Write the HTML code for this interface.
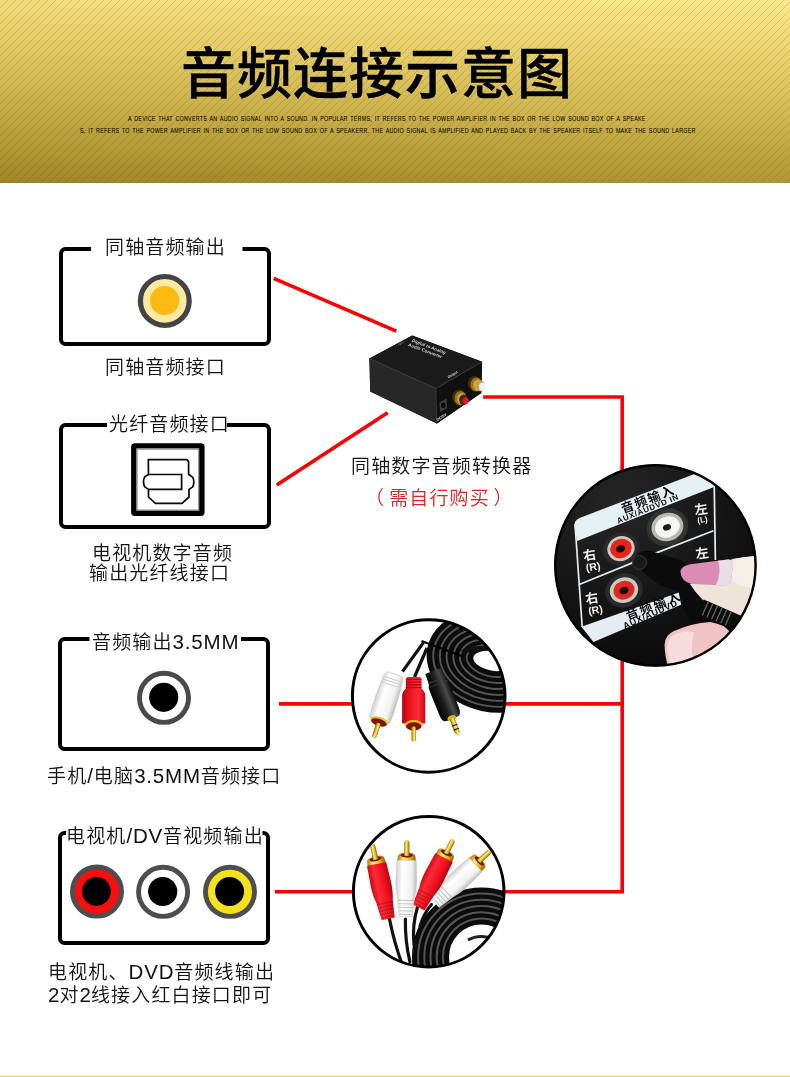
<!DOCTYPE html>
<html lang="zh-CN">
<head>
<meta charset="utf-8">
<title>音频连接示意图</title>
<style>
html,body{margin:0;padding:0;background:#fff;}
body{width:790px;height:1077px;position:relative;overflow:hidden;
  font-family:"Liberation Sans","Noto Sans CJK SC",sans-serif;color:#2b2b2b;}
#hdr{position:absolute;left:0;top:0;width:790px;height:183px;overflow:hidden;
  background:linear-gradient(182.3deg,#f9e88e 0%,#f3dc7c 15%,#e3ca66 35%,#d6bc56 50%,#c1a642 70%,#b09835 85%,#9f8525 100%);}
#hdr .stripes{position:absolute;left:0;top:0;width:790px;height:183px;
  background:repeating-linear-gradient(135deg,rgba(90,70,10,0) 0,rgba(90,70,10,0) 4.95px,rgba(70,54,6,.18) 4.95px,rgba(70,54,6,.18) 5.657px);}
#hdr h1{position:absolute;left:181px;top:47px;margin:0;
  font-weight:500;font-size:55px;line-height:55px;letter-spacing:1px;color:#000;white-space:nowrap;
  -webkit-text-stroke:0.5px #000;text-shadow:0 0 2px rgba(255,240,150,.5);}
#hdr p{position:absolute;margin:0;left:0;font-size:12px;line-height:12px;color:#080600;-webkit-text-stroke:0.12px #080600;white-space:nowrap;
  transform-origin:0 0;}
.t{position:absolute;margin:0;white-space:nowrap;font-size:19px;line-height:22px;font-weight:350;color:#111;
  letter-spacing:1.15px;will-change:transform;}
.t .l{font-size:20.5px;letter-spacing:0.8px;font-weight:400;}
.red{color:#e6211d;}
#art{position:absolute;left:0;top:0;width:790px;height:1077px;will-change:transform;}
#art text{font-family:"Liberation Sans","Noto Sans CJK SC",sans-serif;}
#foot{position:absolute;left:0;top:1073px;width:790px;height:4px;background:linear-gradient(180deg,#ffffff 0,#fffbea 50%,#fdf0bf 75%,#f4d35e 76%,#f4d35e 100%);}
</style>
</head>
<body>
<div id="hdr">
  <div class="stripes"></div>
  <h1>音频连接示意图</h1>
  <p id="s1" style="left:128px;top:113.7px;transform:scale(0.4455,0.66);letter-spacing:0.6px;word-spacing:2px;">A DEVICE THAT CONVERTS AN AUDIO SIGNAL INTO A SOUND. IN POPULAR TERMS, IT REFERS TO THE POWER AMPLIFIER IN THE BOX OR THE LOW SOUND BOX OF A SPEAKE</p>
  <p id="s2" style="left:80px;top:125.6px;transform:scale(0.4455,0.66);letter-spacing:0.6px;word-spacing:2px;">S, IT REFERS TO THE POWER AMPLIFIER IN THE BOX OR THE LOW SOUND BOX OF A SPEAKERR. THE AUDIO SIGNAL IS AMPLIFIED AND PLAYED BACK BY THE SPEAKER ITSELF TO MAKE THE SOUND LARGER</p>
</div>
<svg id="art" width="790" height="1077" viewBox="0 0 790 1077">
<defs>
  <clipPath id="cpA"><circle cx="428.7" cy="696" r="77"/></clipPath>
  <clipPath id="cpB"><circle cx="428.7" cy="891.7" r="76"/></clipPath>
  <clipPath id="cpP"><circle cx="655.4" cy="565.4" r="100.8"/></clipPath>
  <linearGradient id="gGold" x1="0" y1="0" x2="1" y2="0">
    <stop offset="0" stop-color="#a8740a"/><stop offset=".35" stop-color="#fff07a"/><stop offset=".7" stop-color="#e2b21c"/><stop offset="1" stop-color="#8a5a06"/>
  </linearGradient>
  <linearGradient id="gRed" x1="0" y1="0" x2="1" y2="0">
    <stop offset="0" stop-color="#c80a14"/><stop offset=".3" stop-color="#ff2a34"/><stop offset=".75" stop-color="#e80e1c"/><stop offset="1" stop-color="#b00610"/>
  </linearGradient>
  <linearGradient id="gWht" x1="0" y1="0" x2="1" y2="0">
    <stop offset="0" stop-color="#cfcfcf"/><stop offset=".3" stop-color="#ffffff"/><stop offset=".75" stop-color="#f1f1f1"/><stop offset="1" stop-color="#bdbdbd"/>
  </linearGradient>
  <linearGradient id="gBlk" x1="0" y1="0" x2="1" y2="0">
    <stop offset="0" stop-color="#0a0a0a"/><stop offset=".3" stop-color="#4a4a4a"/><stop offset=".6" stop-color="#1c1c1c"/><stop offset="1" stop-color="#000"/>
  </linearGradient>
  <!-- RCA plug: origin at gold collar, pin points up (-y), body extends down (+y) -->
  <g id="pin">
    <path d="M-2.6 -5 V-17 Q-2.6 -20.5 0 -20.5 Q2.6 -20.5 2.6 -17 V-5 Z" fill="url(#gGold)"/>
    <path d="M-8.8 -4 Q-8.8 -8 0 -8 Q8.8 -8 8.8 -4 L9.4 2 H-9.4 Z" fill="url(#gGold)"/>
    <ellipse cx="0" cy="-5.2" rx="6.2" ry="2.3" fill="#7a1400"/>
    <rect x="-2.6" y="-9" width="5.2" height="4.5" fill="url(#gGold)"/>
  </g>
  <g id="ribs" fill="none" stroke="#000" stroke-opacity=".22" stroke-width="1.1">
    <path d="M-7.6 40 H7.6 M-7.2 43.5 H7.2 M-6.8 47 H6.8 M-6.4 50.5 H6.4 M-6 54 H6"/>
  </g>
  <path id="body" d="M-9.8 1 Q-10 0 -9 0 H9 Q10 0 9.8 1 L10.4 22 Q10.2 32 8.4 38 L6.6 56 H-6.6 L-8.4 38 Q-10.2 32 -10.4 22 Z"/>
  <path id="bodyS" d="M-10.4 1 Q-10.6 0 -9.6 0 H9.6 Q10.6 0 10.4 1 L10.8 26 Q10.4 31 8.2 33 L7.6 47 Q7.4 49 5.5 49 H-5.5 Q-7.4 49 -7.6 47 L-8.2 33 Q-10.4 31 -10.8 26 Z"/>
</defs>
<!-- red connection lines -->
<g fill="none" stroke="#fb0000" stroke-width="3.6" stroke-linecap="butt" stroke-linejoin="miter">
  <path d="M273.7 278.4 L396.3 331.2"/>
  <path d="M276.7 484.9 L387.6 412.7"/>
  <path d="M483.2 397 H622.2 V891.7 H505"/>
  <path d="M279 703.9 H352"/>
  <path d="M505 703.9 H622.2"/>
  <path d="M274.9 891.7 H352"/>
</g>
<!-- socket boxes -->
<g fill="none" stroke="#000" stroke-width="4" stroke-linecap="butt">
  <path d="M91 249 H65.5 a4.5 4.5 0 0 0 -4.5 4.5 V339.5 a4.5 4.5 0 0 0 4.5 4.5 H264.5 a4.5 4.5 0 0 0 4.5 -4.5 V253.5 a4.5 4.5 0 0 0 -4.5 -4.5 H242.5"/>
  <path d="M107 425 H65.5 a4.5 4.5 0 0 0 -4.5 4.5 V522.5 a4.5 4.5 0 0 0 4.5 4.5 H264.5 a4.5 4.5 0 0 0 4.5 -4.5 V429.5 a4.5 4.5 0 0 0 -4.5 -4.5 H226.8"/>
  <path d="M89.5 639 H64.5 a4.5 4.5 0 0 0 -4.5 4.5 V744.5 a4.5 4.5 0 0 0 4.5 4.5 H263.5 a4.5 4.5 0 0 0 4.5 -4.5 V643.5 a4.5 4.5 0 0 0 -4.5 -4.5 H241"/>
  <path d="M66 833 H64.5 a4.5 4.5 0 0 0 -4.5 4.5 V938.5 a4.5 4.5 0 0 0 4.5 4.5 H263.5 a4.5 4.5 0 0 0 4.5 -4.5 V837.5 a4.5 4.5 0 0 0 -4.5 -4.5 H262.5"/>
</g>
<!-- coax jack -->
<g>
  <circle cx="164.8" cy="300.9" r="24.4" fill="#fde9a2" stroke="#424446" stroke-width="5.2"/>
  <circle cx="164.6" cy="300.5" r="14.6" fill="#fdb812"/>
</g>
<!-- optical jack -->
<g>
  <rect x="133.8" y="445.9" width="68.1" height="67.4" rx="1" fill="#fff" stroke="#000" stroke-width="5.4"/>
  <rect x="137.2" y="449.3" width="61.3" height="60.6" fill="none" stroke="#9a9a9a" stroke-width="1"/>
  <path d="M148.3 459.7 H187.1 L188.6 461.6 V474.2 L192.8 477.4 Q194.9 481.8 192.8 486.9 L189 489.4 V497 L182 503.4 H155.4 L148.5 497 V489.4 L144.7 486.9 Q142.3 481.8 144.7 476.8 L148.5 474.5 Z" fill="#fff" stroke="#0a0a0a" stroke-width="1.7" stroke-linejoin="round"/>
  <path d="M148.5 474.5 H181.6 V489.4 H148.5" fill="none" stroke="#0a0a0a" stroke-width="1.7"/>
</g>
<!-- 3.5mm jack -->
<g>
  <circle cx="164" cy="697.8" r="24.55" fill="#fff" stroke="#4a4a4a" stroke-width="4.9"/>
  <circle cx="163.7" cy="697.3" r="14.6" fill="#000"/>
</g>
<!-- RCA jacks -->
<g>
  <circle cx="97" cy="891.6" r="24.55" fill="#fa0d0d" stroke="#4e4e4e" stroke-width="4.9"/>
  <circle cx="96.4" cy="891.4" r="14.4" fill="#000"/>
  <circle cx="163.1" cy="891.8" r="24.55" fill="#fff" stroke="#4e4e4e" stroke-width="4.9"/>
  <circle cx="162.7" cy="891.5" r="14.6" fill="#000"/>
  <circle cx="230" cy="891.8" r="24.55" fill="#f6e21c" stroke="#4e4e4e" stroke-width="4.9"/>
  <circle cx="229.6" cy="891.5" r="14.5" fill="#000"/>
</g>
<!-- converter box -->
<g>
  <path d="M369.4 358.4 L412.2 335.4 L482.1 361.7 L481.3 393 L436.9 423.4 L370.2 391.4 Z" fill="#0c0c0c"/>
  <path d="M369.4 358.4 L412.2 335.4 L482.1 361.7 L436 388.6 Z" fill="#1b1b1b"/>
  <path d="M369.4 358.4 L436 388.6 L436.9 423.4 L370.2 391.4 Z" fill="#272727"/>
  <path d="M436 388.6 L482.1 361.7 L481.3 393 L436.9 423.4 Z" fill="#101010"/>
  <path d="M369.4 358.4 L436 388.6 L482.1 361.7" fill="none" stroke="#4a4a4a" stroke-width=".8"/>
  <path d="M436 388.6 L436.9 423.4" fill="none" stroke="#3a3a3a" stroke-width=".8"/>
  <g transform="translate(411.5 341.6) rotate(20.5)" fill="#cfcfcf" font-size="4.4" font-style="italic" font-weight="700">
    <text x="0" y="0" textLength="36" lengthAdjust="spacingAndGlyphs">Digital to Analog</text>
    <text x="-2" y="5.2" textLength="36" lengthAdjust="spacingAndGlyphs">Audio Converter</text>
  </g>
  <text transform="translate(448.5 378.3) rotate(-30)" fill="#d8d8d8" font-size="3.6" font-weight="700" textLength="11" lengthAdjust="spacingAndGlyphs">Output</text>
  <text transform="translate(398.5 345.5) rotate(-28)" fill="#9a9a9a" font-size="2.6" textLength="6" lengthAdjust="spacingAndGlyphs">Input</text>
  <text transform="translate(437.6 421.2) rotate(-33)" fill="#e0e0e0" font-size="3.6" font-weight="700" textLength="11" lengthAdjust="spacingAndGlyphs">DC/5V</text>
  <!-- DC jack -->
  <path d="M439.5 402.5 L446.5 398.5 L447 408 L440 412.2 Z" fill="#3c3c3c"/>
  <ellipse cx="443.2" cy="405.3" rx="2.2" ry="2.8" fill="#050505"/>
  <!-- RCA red -->
  <ellipse cx="458.8" cy="397.4" rx="6.6" ry="7.8" fill="#3e2e0a"/>
  <ellipse cx="460.6" cy="398.2" rx="6" ry="7.2" fill="#9a7420"/>
  <ellipse cx="461.8" cy="398.8" rx="4.6" ry="5.6" fill="#d2a63a"/>
  <ellipse cx="463.6" cy="399.8" rx="4.4" ry="5.2" fill="#3a2606"/>
  <ellipse cx="465.6" cy="400.6" rx="3" ry="3.6" fill="#e01818"/>
  <!-- RCA white -->
  <ellipse cx="474.4" cy="383.6" rx="6.4" ry="7.6" fill="#3e2e0a"/>
  <ellipse cx="476.4" cy="384.6" rx="6" ry="7" fill="#9a7420"/>
  <ellipse cx="478" cy="385.2" rx="4.8" ry="5.6" fill="#d2a63a"/>
  <ellipse cx="480.4" cy="386" rx="4.6" ry="5.4" fill="#c8a24a"/>
  <ellipse cx="482.2" cy="386.8" rx="3.2" ry="4" fill="#f1f1f1"/>
</g>
<!-- photo: 3.5mm to 2RCA cable -->
<g>
  <circle cx="428.7" cy="696" r="77" fill="#fff"/>
  <g clip-path="url(#cpA)">
    <!-- coil -->
    <g transform="rotate(12 492 661)">
      <ellipse cx="492" cy="661" rx="66" ry="51" fill="#0b0b0b"/>
      <g fill="none" stroke="#565656" stroke-width="1.9">
        <ellipse cx="492" cy="661" rx="25.7" ry="15.4"/>
        <ellipse cx="492" cy="661" rx="32.4" ry="21.4"/>
        <ellipse cx="492" cy="661" rx="39.1" ry="27.3"/>
        <ellipse cx="492" cy="661" rx="45.9" ry="33.2"/>
        <ellipse cx="492" cy="661" rx="52.6" ry="39.1"/>
        <ellipse cx="492" cy="661" rx="59.3" ry="45.1"/>
      </g>
      <ellipse cx="492" cy="661" rx="19" ry="9.5" fill="#fff"/>
    </g>
    <path d="M462 652 Q480 645 506 650" stroke="#111" stroke-width="4.5" fill="none"/>
    <!-- thin leads and tie -->
    <path d="M402.5 671.5 L423.5 642.5" stroke="#111" stroke-width="3" fill="none"/>
    <path d="M414.5 677 L427 648" stroke="#111" stroke-width="3.2" fill="none"/>
    <path d="M421.5 641 L461.5 656" stroke="#000" stroke-width="2.2" fill="none"/>
    <!-- white plug -->
    <g transform="translate(379 722) rotate(198)">
      <path d="M-2.2 3 V14 Q-2.2 17 0 17 Q2.2 17 2.2 14 V3 Z" fill="url(#gGold)" transform="rotate(180)"/>
      <path d="M-10.6 -2 Q-11.6 -14 -11 -26 Q-10.6 -40 -9.6 -47 Q-9 -50.5 -5 -50.5 H5 Q9 -50.5 9.6 -47 Q10.6 -40 11 -26 Q11.6 -14 10.6 -2 Z" fill="url(#gWht)" stroke="#c2c2c2" stroke-width=".6" transform="rotate(180)"/>
      <path d="M-9.6 39 H9.6 M-9.8 42 H9.8 M-9.8 45 H9.8" stroke="#cfcfcf" stroke-width="1" fill="none"/>
      <ellipse cx="0" cy="0.6" rx="9.4" ry="4.6" fill="#e9c22a"/>
      <ellipse cx="0" cy="-0.4" rx="8" ry="3.6" fill="#7c1600"/>
      <rect x="-2.2" y="-15" width="4.4" height="14" rx="1.6" fill="url(#gGold)"/>
    </g>
    <!-- red plug -->
    <g transform="translate(413.7 726.6) rotate(180)">
      <path d="M-11.6 4 Q-11.8 3 -10.6 3 H10.6 Q11.8 3 11.6 4 L11.6 31 Q11.4 35 8 37.5 L7.7 47.5 Q7.5 49.5 5.5 49.5 H-5.5 Q-7.5 49.5 -7.7 47.5 L-8 37.5 Q-11.4 35 -11.6 31 Z" fill="url(#gRed)"/>
      <path d="M-7.8 39 H7.8 M-7.8 41.8 H7.8 M-7.8 44.6 H7.8 M-7.6 47.2 H7.6" stroke="#a00812" stroke-width="1" fill="none"/>
      <ellipse cx="0" cy="1.6" rx="9" ry="5" fill="#e9c22a"/>
      <ellipse cx="0" cy="0.2" rx="7.6" ry="4.2" fill="#7c1600"/>
      <rect x="-2.2" y="-15" width="4.4" height="15" rx="1.6" fill="url(#gGold)"/>
    </g>
    <!-- black 3.5mm plug -->
    <g transform="translate(450.8 715.6) rotate(158.6)">
      <path d="M-10.4 4 Q-10.6 -3.5 -5 -3.5 H5 Q10.6 -3.5 10.4 4 L10.8 30 Q10.6 35 9 37 L8.6 48 H-8.6 L-9 37 Q-10.6 35 -10.8 30 Z" fill="url(#gBlk)"/>
      <path d="M-9.4 34 H9.4 M-9 38 H9" stroke="#3c3c3c" stroke-width="1" fill="none"/>
      <ellipse cx="0" cy="-2.6" rx="4.4" ry="2.6" fill="#d8b020"/>
      <path d="M-2.6 -3 V-17.5 L0 -22.5 L2.6 -17.5 V-3 Z" fill="url(#gGold)"/>
      <path d="M-2.8 -14.6 H2.8 M-2.8 -10.4 H2.8" stroke="#1a1200" stroke-width="1.1"/>
    </g>
  </g>
  <circle cx="428.7" cy="696" r="76.3" fill="none" stroke="#000" stroke-width="3"/>
</g>
<!-- photo: 2RCA to 2RCA cable -->
<g>
  <circle cx="428.7" cy="891.7" r="76" fill="#fff"/>
  <g clip-path="url(#cpB)">
    <!-- coil -->
    <g fill="none">
      <circle cx="481.5" cy="957" r="51" stroke="#0b0b0b" stroke-width="37"/>
      <g stroke="#565656" stroke-width="2">
        <circle cx="481.5" cy="957" r="63.4"/>
        <circle cx="481.5" cy="957" r="57.2"/>
        <circle cx="481.5" cy="957" r="51"/>
        <circle cx="481.5" cy="957" r="44.8"/>
        <circle cx="481.5" cy="957" r="38.6"/>
      </g>
      <path d="M468 940 Q478 934 492 938" stroke="#222" stroke-width="3"/>
    </g>
    <!-- leads -->
    <g fill="none" stroke="#111" stroke-width="3.2" stroke-linecap="round">
      <path d="M389.5 919 Q394 942 402 964"/>
      <path d="M405.4 919 Q405 942 410 962"/>
      <path d="M417.5 907 Q412 925 414 945"/>
      <path d="M431.5 904.5 Q424 913 420 926"/>
    </g>
    <!-- white plug 2 -->
    <g transform="translate(475.6 864.6) rotate(47)">
      <use href="#pin"/><use href="#body" fill="url(#gWht)" stroke="#c4c4c4" stroke-width=".5"/><use href="#ribs"/>
    </g>
    <!-- red plug 2 -->
    <g transform="translate(444 857.6) rotate(27)">
      <use href="#pin"/><use href="#body" fill="url(#gRed)"/><use href="#ribs"/>
    </g>
    <!-- white plug 1 -->
    <g transform="translate(406.6 860.4) rotate(1)">
      <use href="#pin"/><use href="#body" fill="url(#gWht)" stroke="#c4c4c4" stroke-width=".5"/><use href="#ribs"/>
    </g>
    <!-- red plug 1 -->
    <g transform="translate(376.6 864) rotate(-12)">
      <use href="#pin"/><use href="#body" fill="url(#gRed)"/><use href="#ribs"/>
    </g>
  </g>
  <circle cx="428.7" cy="891.7" r="75.3" fill="none" stroke="#000" stroke-width="3"/>
</g>
<!-- photo: amplifier AUX input panel -->
<g>
  <circle cx="655.4" cy="565.4" r="100.8" fill="#101010"/>
  <g clip-path="url(#cpP)">
    <radialGradient id="gDisc" cx=".35" cy=".2" r=".8">
      <stop offset="0" stop-color="#262626"/><stop offset="1" stop-color="#0a0a0a"/>
    </radialGradient>
    <rect x="550" y="462" width="210" height="210" fill="url(#gDisc)"/>
    <!-- jacks -->
    <g>
      <ellipse cx="621" cy="549" rx="18" ry="16.5" fill="#2b2a28" transform="rotate(-20 621 549)"/>
      <ellipse cx="621" cy="548.6" rx="13.8" ry="12.4" fill="#c9c9c5" transform="rotate(-20 621 548.6)"/>
      <ellipse cx="621" cy="548.6" rx="11" ry="9.6" fill="#e2261c" transform="rotate(-20 621 548.6)"/>
      <ellipse cx="620.6" cy="548.8" rx="4.6" ry="3.6" fill="#1a0806" transform="rotate(-20 620.6 548.8)"/>
      <ellipse cx="667.4" cy="527.2" rx="21" ry="18.6" fill="#34332f" transform="rotate(-20 667.4 527.2)"/>
      <ellipse cx="667.4" cy="527" rx="16.2" ry="14" fill="#b9b9b4" transform="rotate(-20 667.4 527)"/>
      <ellipse cx="667.4" cy="527" rx="12.6" ry="10.4" fill="#f5f5f3" transform="rotate(-20 667.4 527)"/>
      <ellipse cx="667" cy="527.4" rx="4.2" ry="3" fill="#1c1c1c" transform="rotate(-20 667 527.4)"/>
      <ellipse cx="624" cy="590.4" rx="19" ry="17" fill="#2b2a28" transform="rotate(-20 624 590.4)"/>
      <ellipse cx="624" cy="590.2" rx="14.4" ry="12.6" fill="#c9c9c5" transform="rotate(-20 624 590.2)"/>
      <ellipse cx="624" cy="590.2" rx="10.8" ry="9.2" fill="#e2261c" transform="rotate(-20 624 590.2)"/>
      <ellipse cx="624" cy="590.6" rx="4.6" ry="3.6" fill="#1a0806" transform="rotate(-20 624 590.6)"/>
    </g>
    <!-- plate outline -->
    <g fill="none" stroke="#e4edf2" stroke-width="1.7">
      <path d="M575 524 L582.2 627"/>
      <path d="M714.2 484 L715.4 560"/>
      <path d="M578.6 584.8 L636 561.4"/>
      <path d="M713.4 530.8 L655 553.4"/>
    </g>
    <!-- top white band -->
    <path d="M574.4 526 Q574 520.4 579.5 518 L716 465.8 L714 487 L577.2 541 Z" fill="#e6f1f6"/>
    <!-- bottom white band -->
    <path d="M581.4 626.8 L679 592.4 L681.6 604.6 L593.5 642 Z" fill="#e3edf3"/>
    <!-- labels -->
    <g fill="#f2f2f2" font-weight="700" text-anchor="middle">
      <g transform="translate(589.6 555.4) rotate(-10)"><text font-size="13" y="4.4">右</text><text font-size="10.5" y="15.4" x="1.4">(R)</text></g>
      <g transform="translate(592 598.6) rotate(-10)"><text font-size="13" y="4.4">右</text><text font-size="10.5" y="15.4" x="1.4">(R)</text></g>
      <g transform="translate(701 509.6) rotate(-8)"><text font-size="13" y="4.4">左</text><text font-size="8" y="13">(L)</text></g>
      <g transform="translate(702 553.4) rotate(-8)"><text font-size="13" y="4.4">左</text></g>
    </g>
    <g fill="#0a0a0a" text-anchor="middle" font-weight="700">
      <text transform="translate(648.2 499.2) rotate(-21)" y="4.5" font-size="12.5" letter-spacing="1.7">音频输入</text>
      <text transform="translate(647.8 508.6) rotate(-22)" y="2.9" font-size="8" letter-spacing=".7">AUX/AUDVD IN</text>
    </g>
    <g fill="#0a0a0a" font-weight="700">
      <text transform="translate(626.2 615.6) rotate(-20.6)" y="4.5" font-size="12.5" letter-spacing="2.2">音频输入</text>
      <text transform="translate(623.4 626.2) rotate(-24)" y="3.2" font-size="9" letter-spacing=".6">AUX/AUDVD</text>
    </g>
    <!-- plug and cable -->
    <path d="M634 558 Q642 548 654 552 L680 560 Q692 568 695 580 L701 600 L742 622 L734 642 L692 626 L681 604 L678.6 591 Q662 588 650 578 Q638 568 634 558 Z" fill="#0b0b0b"/>
    <circle cx="639.5" cy="562.5" r="7" fill="#1a1a1a" stroke="#3a3a3a" stroke-width="1"/>
    <!-- index finger -->
    <path d="M690 584 Q700 578 730 574 L730 560 Q745 556 760 556 L760 618 Q735 618 716 610 Q700 600 690 584 Z" fill="#efe4da"/>
    <path d="M730 560 Q746 556 760 556 L760 590 Q745 588 733 582 Z" fill="#f6efe8"/>
    <path d="M680.4 571.6 Q681 566 690 564.2 L728 559.6 Q734 559.4 733 566 L731 580 Q730 585 724 585.4 L692 584 Q681 582 680.4 571.6 Z" fill="#dc8db6"/>
    <path d="M718 560.8 L728 559.6 Q734 559.4 733 566 L731 580 Q730 585 724 585.4 L716 585 Q722 572 718 560.8 Z" fill="#ebdde6"/>
    <!-- strain relief -->
    <g transform="translate(701 606) rotate(23.5)">
      <rect x="0" y="-7" width="42" height="15" fill="#0c0c0c"/>
      <path d="M5 -7 V8 M10 -7 V8 M15 -7 V8 M20 -7 V8 M25 -7 V8 M30 -7 V8" stroke="#666" stroke-width="1.3" fill="none"/>
    </g>
    <!-- thumb -->
    <path d="M664.6 646 Q664 636 674 631 Q692 623 710 622 Q724 624 730 632 L760 640 L760 680 L672 680 Q665 660 664.6 646 Z" fill="#efc4c2"/>
    <path d="M667 648 Q667 638 676 634 Q686 630 694 632 Q690 648 694 668 L676 672 Q668 660 667 648 Z" fill="#f6dcdc"/>
  </g>
  <circle cx="655.4" cy="565.4" r="100.2" fill="none" stroke="#000" stroke-width="2.4"/>
</g>
</svg>
<div class="t" style="left:104.5px;top:237.2px;">同轴音频输出</div>
<div class="t" style="left:105.0px;top:356.5px;">同轴音频接口</div>
<div class="t" style="left:108.8px;top:413.7px;">光纤音频接口</div>
<div class="t" style="left:91.6px;top:542.7px;">电视机数字音频</div>
<div class="t" style="left:89.4px;top:563.2px;">输出光纤线接口</div>
<div class="t" style="left:91.8px;top:631.0px;">音频输出<span class="l">3.5MM</span></div>
<div class="t" style="left:47.2px;top:764.5px;">手机<span class="l">/</span>电脑<span class="l">3.5MM</span>音频接口</div>
<div class="t" style="left:66.2px;top:825.0px;">电视机<span class="l">/DV</span>音视频输出</div>
<div class="t" style="left:48.1px;top:961.0px;">电视机、<span class="l">DVD</span>音频线输出</div>
<div class="t" style="left:47.5px;top:984.1px;"><span class="l" style="letter-spacing:0">2</span>对<span class="l" style="letter-spacing:0">2</span>线接入红白接口即可</div>
<div class="t" style="left:351.2px;top:456.3px;">同轴数字音频转换器</div>
<div class="t red" style="left:368.5px;top:488.3px;"><span style="position:relative;left:-4px">（</span>需自行购买<span style="position:relative;left:3.5px">）</span></div>
<div id="foot"></div>
</body>
</html>
